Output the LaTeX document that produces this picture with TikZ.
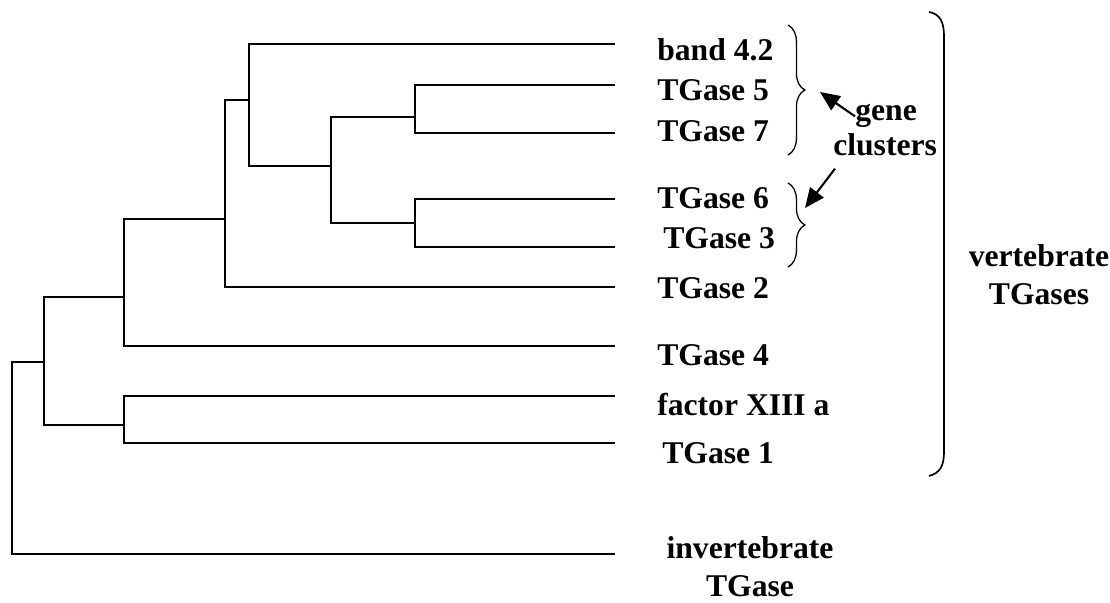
\documentclass[tikz,border=0pt]{standalone}
\usepackage{fontspec}
\setmainfont{Liberation Serif}
\usetikzlibrary{arrows.meta,decorations.pathreplacing}

\begin{document}
\begin{tikzpicture}[x=0.025cm, y=-0.025cm,
  branch/.style={line width=1.1pt},
  taxon/.style={anchor=west, inner sep=0pt, font=\fontsize{22.5}{27}\selectfont\bfseries},
  note/.style={inner sep=0pt, align=center, font=\fontsize{22.5}{27}\selectfont\bfseries},
  clusterbrace/.style={decorate, decoration={brace, amplitude=12pt}, line width=0.9pt},
  pointer/.style={-{Triangle[length=14pt,width=12pt]}, line width=1.5pt}]
\useasboundingbox (0,0) rectangle (1110,603);

\coordinate (e42) at (615,44);
\coordinate (e5) at (615,85);
\coordinate (e7) at (615,133);
\coordinate (e6) at (615,199);
\coordinate (e3) at (615,247);
\coordinate (e2) at (615,287);
\coordinate (e4) at (615,346);
\coordinate (e13) at (615,396);
\coordinate (e1) at (615,443);
\coordinate (einv) at (615,554);

\coordinate (n57) at (415,117);
\coordinate (n63) at (415,223);
\coordinate (nC) at (331,166);
\coordinate (nA) at (249,100);
\coordinate (nB) at (225,219);
\coordinate (nD) at (124,297);
\coordinate (nF) at (124,425);
\coordinate (nE) at (44,362);
\coordinate (nR) at (12,450);

\draw[branch] (e5) -| (n57) |- (e7);
\draw[branch] (e6) -| (n63) |- (e3);
\draw[branch] (n57) -| (nC) |- (n63);
\draw[branch] (e42) -| (nA) |- (nC);
\draw[branch] (nA) -| (nB) |- (e2);
\draw[branch] (nB) -| (nD) |- (e4);
\draw[branch] (e13) -| (nF) |- (e1);
\draw[branch] (nD) -| (nE) |- (nF);
\draw[branch] (nE) -| (nR) |- (einv);

\node[taxon] (l42) at (657,50) {band 4.2};
\node[taxon] (l5) at (657,90) {TGase 5};
\node[taxon] (l7) at (657,131) {TGase 7};
\node[taxon] (l6) at (657,198) {TGase 6};
\node[taxon] (l3) at (663,238) {TGase 3};
\node[taxon] (l2) at (657,288) {TGase 2};
\node[taxon] (l4) at (657,355) {TGase 4};
\node[taxon] (l13) at (657,405) {factor XIII a};
\node[taxon] (l1) at (662,453) {TGase 1};
\node[note] (linv) at (750,567) {invertebrate\\TGase};

\draw[clusterbrace] (788,25) -- (788,155);
\draw[clusterbrace] (788,183) -- (788,267);
\draw[line width=1.2pt] (929,12) .. controls (940,14) and (944,22) .. (944,36)
  -- (944,452) .. controls (944,466) and (940,473) .. (929,476);

\node[note, anchor=base west] (gene) at (855,121) {gene};
\node[note, anchor=base west] (clusters) at (833,156) {clusters};
\node[note] (vert) at (1039,275) {vertebrate\\TGases};

\coordinate (tip1) at (820,92);
\coordinate (tip2) at (805,208);
\draw[pointer] (gene.west) -- (tip1);
\draw[pointer] ([shift={(2,12)}]clusters.south west) -- (tip2);
\end{tikzpicture}
\end{document}
